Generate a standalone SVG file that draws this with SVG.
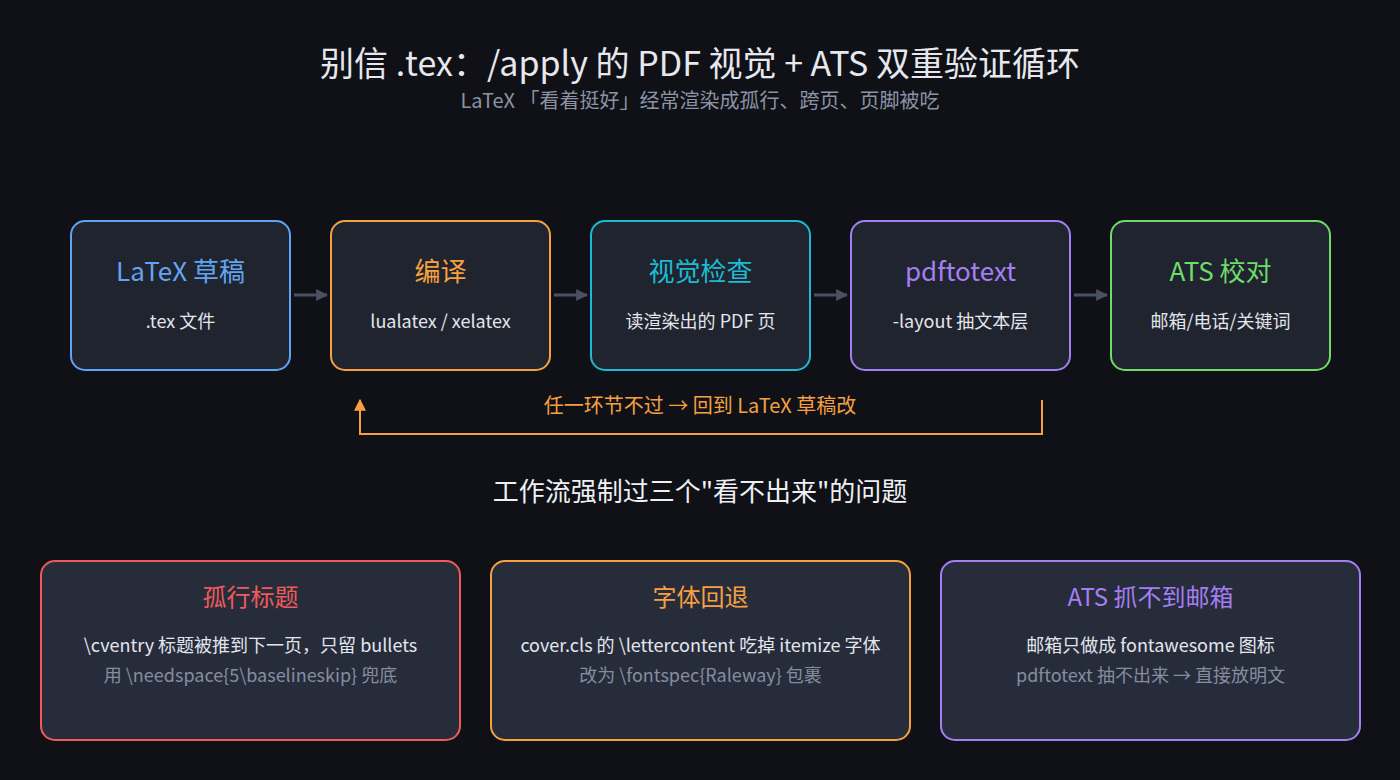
<svg xmlns="http://www.w3.org/2000/svg" width="1400" height="780" viewBox="0 0 1400 780">
<defs>
<style>
text{font-family:"Noto Sans CJK SC","Noto Sans",sans-serif;text-anchor:middle}
.title{font-size:34px;fill:#e6e8ee}
.sub{font-size:20px;fill:#8b93a5}
.sec{font-size:26px;fill:#eef0f4}
.box{fill:#20242f;stroke-width:2}
.card{fill:#272c3b;stroke-width:2}
.nt{font-size:26px}
.ns{font-size:18px;fill:#e3e6ec}
.ct{font-size:24px}
.c1{font-size:18px;fill:#e3e6ec}
.c2{font-size:18px;fill:#858da0}
.flow{stroke:#4a5163;stroke-width:3;fill:none}
</style>
<marker id="ah" viewBox="0 0 10 10" refX="9" refY="5" markerWidth="4" markerHeight="4" orient="auto" markerUnits="strokeWidth"><path d="M0,0 L10,5 L0,10 z" fill="#4a5163"/></marker>
<marker id="ahb" viewBox="0 0 10 10" refX="9" refY="5" markerWidth="6" markerHeight="6" orient="auto" markerUnits="strokeWidth"><path d="M0,0 L10,5 L0,10 z" fill="#f7a040"/></marker>
</defs>
<rect width="1400" height="780" fill="#0f1117"/>
<text class="title" x="700" y="76">别信 .tex：/apply 的 PDF 视觉 + ATS 双重验证循环</text>
<text class="sub" x="700" y="108">LaTeX 「看着挺好」经常渲染成孤行、跨页、页脚被吃</text>

<g id="connectors">
<line class="flow" x1="294" y1="295" x2="327" y2="295" marker-end="url(#ah)"/>
<line class="flow" x1="554" y1="295" x2="587" y2="295" marker-end="url(#ah)"/>
<line class="flow" x1="814" y1="295" x2="847" y2="295" marker-end="url(#ah)"/>
<line class="flow" x1="1074" y1="295" x2="1107" y2="295" marker-end="url(#ah)"/>
<path d="M1042,400 V434 H360 V400" fill="none" stroke="#f7a040" stroke-width="2" marker-end="url(#ahb)"/>
<text x="700" y="413" style="font-size:20px;fill:#f7a040">任一环节不过 → 回到 LaTeX 草稿改</text>
</g>

<g id="n1"><rect class="box" x="71" y="221" width="219" height="149" rx="14" stroke="#62a4f4"/>
<text class="nt" x="180.5" y="281" fill="#62a4f4">LaTeX 草稿</text><text class="ns" x="180.5" y="328">.tex 文件</text></g>
<g id="n2"><rect class="box" x="331" y="221" width="219" height="149" rx="14" stroke="#f7a040"/>
<text class="nt" x="440.5" y="281" fill="#f7a040">编译</text><text class="ns" x="440.5" y="328">lualatex / xelatex</text></g>
<g id="n3"><rect class="box" x="591" y="221" width="219" height="149" rx="14" stroke="#1cbbd3"/>
<text class="nt" x="700.5" y="281" fill="#1cbbd3">视觉检查</text><text class="ns" x="700.5" y="328">读渲染出的 PDF 页</text></g>
<g id="n4"><rect class="box" x="851" y="221" width="219" height="149" rx="14" stroke="#a57ef3"/>
<text class="nt" x="960.5" y="281" fill="#a57ef3">pdftotext</text><text class="ns" x="960.5" y="328">-layout 抽文本层</text></g>
<g id="n5"><rect class="box" x="1111" y="221" width="219" height="149" rx="14" stroke="#6edb6c"/>
<text class="nt" x="1220.5" y="281" fill="#6edb6c">ATS 校对</text><text class="ns" x="1220.5" y="328">邮箱/电话/关键词</text></g>

<text class="sec" x="700" y="501">工作流强制过三个"看不出来"的问题</text>

<g id="c1"><rect class="card" x="41" y="561" width="419" height="179" rx="14" stroke="#f05a5a"/>
<text class="ct" x="250.5" y="606" fill="#f05a5a">孤行标题</text>
<text class="c1" x="250.5" y="652">\cventry 标题被推到下一页，只留 bullets</text>
<text class="c2" x="250.5" y="682">用 \needspace{5\baselineskip} 兜底</text></g>
<g id="c2"><rect class="card" x="491" y="561" width="419" height="179" rx="14" stroke="#f7a040"/>
<text class="ct" x="700.5" y="606" fill="#f7a040">字体回退</text>
<text class="c1" x="700.5" y="652">cover.cls 的 \lettercontent 吃掉 itemize 字体</text>
<text class="c2" x="700.5" y="682">改为 \fontspec{Raleway} 包裹</text></g>
<g id="c3"><rect class="card" x="941" y="561" width="419" height="179" rx="14" stroke="#a57ef3"/>
<text class="ct" x="1150.5" y="606" fill="#a57ef3">ATS 抓不到邮箱</text>
<text class="c1" x="1150.5" y="652">邮箱只做成 fontawesome 图标</text>
<text class="c2" x="1150.5" y="682">pdftotext 抽不出来 → 直接放明文</text></g>
</svg>
